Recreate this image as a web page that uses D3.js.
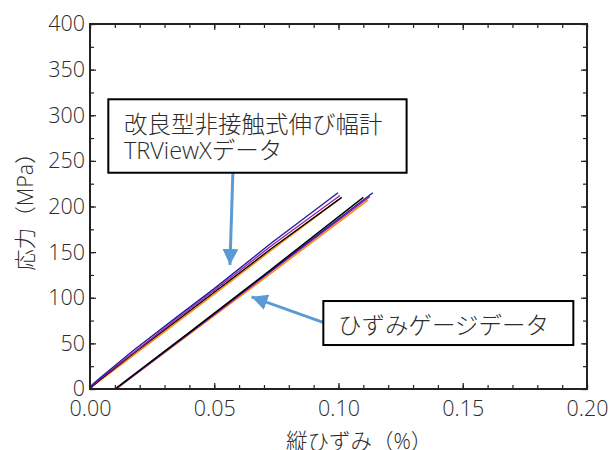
<!DOCTYPE html>
<html>
<head>
<meta charset="utf-8">
<script src="https://cdn.jsdelivr.net/npm/d3@7"></script>
<style>
  html, body { margin: 0; padding: 0; background: #fff; }
  svg { display: block; }
  text { font-family: "Open Sans", "Noto Sans CJK JP", sans-serif; fill: #2b2b2b; font-weight: 300; }
</style>
</head>
<body>
<svg id="chart" width="614" height="450"></svg>
<script>
// ---------- data ----------
const xTickValues = [0, 0.05, 0.10, 0.15, 0.20];
const xTickLabels = ["0.00", "0.05", "0.10", "0.15", "0.20"];
const yTickValues = [0, 50, 100, 150, 200, 250, 300, 350, 400];
const yTickLabels = ["0", "50", "100", "150", "200", "250", "300", "350", "400"];

// TRViewX (non-contact extensometer) curves: strain (%) / stress (MPa)
const trvOrangeX = [0, 0.001, 0.004, 0.018, 0.035, 0.050, 0.073, 0.0998];
const trvOrangeY = [0, 3, 9, 38, 73, 104, 152, 207];
const trvBlackX  = [0, 0.001, 0.004, 0.018, 0.035, 0.050, 0.073, 0.1013];
const trvBlackY  = [0, 3, 10, 40, 75, 106, 154, 210];
const trvPurpleX = [0, 0.001, 0.004, 0.018, 0.035, 0.050, 0.073, 0.1006];
const trvPurpleY = [0, 4, 11, 41, 77, 108, 157, 212];
const trvBlueX   = [0, 0.001, 0.004, 0.0178, 0.035, 0.050, 0.073, 0.0998];
const trvBlueY   = [0, 5, 12, 43, 79, 110, 160, 215];

// Strain gauge curves
const sgOrangeX = [0.0106, 0.040, 0.070, 0.1119];
const sgOrangeY = [0, 60, 121, 207];
const sgPurpleX = [0.0104, 0.040, 0.070, 0.1127];
const sgPurpleY = [0, 61, 123, 211];
const sgBlueX   = [0.0103, 0.040, 0.070, 0.1138];
const sgBlueY   = [0, 61.5, 124, 215];
const sgBlackX  = [0.0100, 0.040, 0.070, 0.1100];
const sgBlackY  = [0, 62, 125, 210];

const seriesColors = {
  orange: "#ff8c00", black: "#000000", purple: "#a21ea8", blue: "#1e1e9c"
};

const xLabel = "縦ひずみ（%）";
const yLabel = "応力（MPa）";
const note1Lines = ["改良型非接触式伸び幅計", "TRViewXデータ"];
const note2Text = "ひずみゲージデータ";

// ---------- layout ----------
const svg = d3.select("#chart");
const L = 90, R = 587, T = 24, B = 389;
const x = d3.scaleLinear().domain([0, 0.20]).range([L, R]);
const y = d3.scaleLinear().domain([0, 400]).range([B, T]);

const zip = (xs, ys) => xs.map((v, i) => [v, ys[i]]);
const series = [
  { pts: zip(trvOrangeX, trvOrangeY), c: seriesColors.orange },
  { pts: zip(trvBlackX, trvBlackY), c: seriesColors.black },
  { pts: zip(trvPurpleX, trvPurpleY), c: seriesColors.purple },
  { pts: zip(trvBlueX, trvBlueY), c: seriesColors.blue },
  { pts: zip(sgOrangeX, sgOrangeY), c: seriesColors.orange },
  { pts: zip(sgPurpleX, sgPurpleY), c: seriesColors.purple },
  { pts: zip(sgBlueX, sgBlueY), c: seriesColors.blue },
  { pts: zip(sgBlackX, sgBlackY), c: seriesColors.black }
];

const line = d3.line().x(d => x(d[0])).y(d => y(d[1]));
svg.append("g").selectAll("path").data(series).join("path")
  .attr("d", d => line(d.pts))
  .attr("fill", "none")
  .attr("stroke", d => d.c)
  .attr("stroke-width", 1.4)
  .attr("stroke-linejoin", "round");

// ---------- axes ----------
const xMinor = d3.range(0, 0.2001, 0.01);
const yMinor = d3.range(0, 400.1, 25);
const axisColor = "#222";

function styleAxis(g) {
  g.select(".domain").remove();
  g.selectAll(".tick line").attr("stroke", axisColor).attr("stroke-width", 1.2);
}
// bottom
svg.append("g").attr("transform", `translate(0,${B})`)
  .call(d3.axisBottom(x).tickValues(xMinor).tickSize(-4).tickFormat(""))
  .call(styleAxis);
const gx = svg.append("g").attr("transform", `translate(0,${B})`)
  .call(d3.axisBottom(x).tickValues(xTickValues).tickSize(-6)
    .tickFormat((d, i) => xTickLabels[i]).tickPadding(12))
  .call(styleAxis);
gx.selectAll("text").attr("font-size", "21.5px").attr("fill", "#2b2b2b")
  .attr("font-family", "Open Sans, sans-serif").attr("font-weight", 300).attr("dy", "0.72em");
// top
svg.append("g").attr("transform", `translate(0,${T})`)
  .call(d3.axisTop(x).tickValues(xMinor).tickSize(-4).tickFormat(""))
  .call(styleAxis);
svg.append("g").attr("transform", `translate(0,${T})`)
  .call(d3.axisTop(x).tickValues(xTickValues).tickSize(-6).tickFormat(""))
  .call(styleAxis);
// left
svg.append("g").attr("transform", `translate(${L},0)`)
  .call(d3.axisLeft(y).tickValues(yMinor).tickSize(-4).tickFormat(""))
  .call(styleAxis);
const gy = svg.append("g").attr("transform", `translate(${L},0)`)
  .call(d3.axisLeft(y).tickValues(yTickValues).tickSize(-6)
    .tickFormat((d, i) => yTickLabels[i]).tickPadding(5))
  .call(styleAxis);
gy.selectAll("text").attr("font-size", "21.5px").attr("fill", "#2b2b2b")
  .attr("font-family", "Open Sans, sans-serif").attr("font-weight", 300);
// right
svg.append("g").attr("transform", `translate(${R},0)`)
  .call(d3.axisRight(y).tickValues(yMinor).tickSize(-4).tickFormat(""))
  .call(styleAxis);
svg.append("g").attr("transform", `translate(${R},0)`)
  .call(d3.axisRight(y).tickValues(yTickValues).tickSize(-6).tickFormat(""))
  .call(styleAxis);

// frame
svg.append("rect").attr("x", L).attr("y", T).attr("width", R - L).attr("height", B - T)
  .attr("fill", "none").attr("stroke", axisColor).attr("stroke-width", 2);

// axis labels
svg.append("text").attr("x", 286).attr("y", 449)
  .attr("font-size", "21.5px").text(xLabel);
svg.append("text").attr("transform", `translate(33,${(T + B) / 2}) rotate(-90)`)
  .attr("text-anchor", "middle").attr("font-size", "21.5px").text(yLabel);

// ---------- annotations ----------
const arrowColor = "#5b9bd5";
const defs = svg.append("defs");
defs.append("marker").attr("id", "ah").attr("viewBox", "0 0 10 10")
  .attr("refX", 10).attr("refY", 5).attr("markerUnits", "userSpaceOnUse")
  .attr("markerWidth", 16).attr("markerHeight", 16).attr("orient", "auto")
  .append("path").attr("d", "M0,0 L10,5 L0,10 Z").attr("fill", arrowColor);

// arrow 1 (TRViewX) : from box to curve, data coordinates
svg.append("line")
  .attr("x1", x(0.0575)).attr("y1", y(237))
  .attr("x2", x(0.0563)).attr("y2", y(136))
  .attr("stroke", arrowColor).attr("stroke-width", 3).attr("marker-end", "url(#ah)");
// arrow 2 (strain gauge)
svg.append("line")
  .attr("x1", x(0.0938)).attr("y1", y(73))
  .attr("x2", x(0.0650)).attr("y2", y(101))
  .attr("stroke", arrowColor).attr("stroke-width", 3).attr("marker-end", "url(#ah)");

// box 1
svg.append("rect").attr("x", x(0.00737)).attr("y", y(317.5))
  .attr("width", x(0.1274) - x(0.00737)).attr("height", y(237) - y(317.5))
  .attr("fill", "#fff").attr("stroke", "#000").attr("stroke-width", 2);
svg.append("text").attr("x", 124).attr("y", 133).attr("font-size", "23.5px").text(note1Lines[0]);
svg.append("text").attr("x", 124).attr("y", 159).attr("font-size", "23.5px").text(note1Lines[1]);

// box 2
svg.append("rect").attr("x", x(0.0939)).attr("y", y(96.4))
  .attr("width", x(0.1945) - x(0.0939)).attr("height", y(48.2) - y(96.4))
  .attr("fill", "#fff").attr("stroke", "#000").attr("stroke-width", 2);
svg.append("text").attr("x", 338).attr("y", 334).attr("font-size", "23.5px").text(note2Text);
</script>
</body>
</html>
